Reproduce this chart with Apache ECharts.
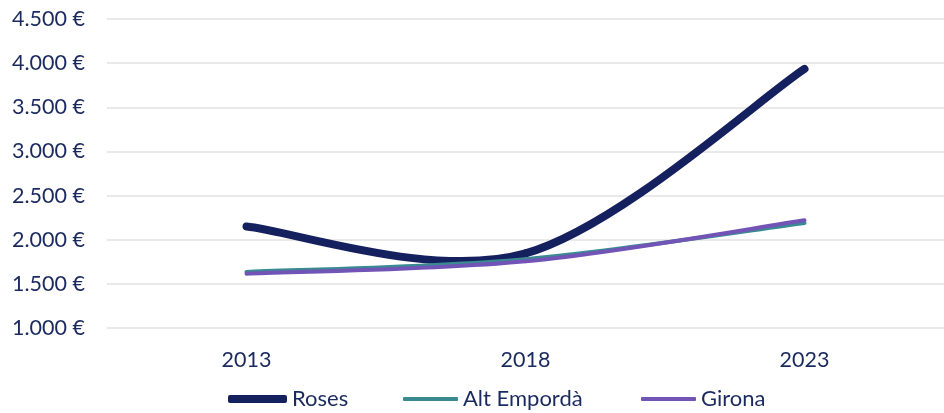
<!DOCTYPE html>
<html>
<head>
<meta charset="utf-8">
<script src="https://cdn.jsdelivr.net/npm/echarts@6/dist/echarts.min.js"></script>
<style>html,body{margin:0;padding:0;background:#fff}#c{width:944px;height:413px}</style>
</head>
<body>
<div id="c"></div>
<script>
var years = ['2013', '2018', '2023'];
var roses = [2150, 1845, 3935];
var altEmporda = [1635, 1780, 2190];
var girona = [1615, 1755, 2220];
var yTicks = [1000, 1500, 2000, 2500, 3000, 3500, 4000, 4500];

var textColor = '#1B2A5E';
var font = 'Lato';
var fs = 21.5;
function fmt(v) {
  var s = String(Math.round(v));
  return s.replace(/\B(?=(\d{3})+(?!\d))/g, '.') + ' €';
}
// Excel-like smoothed line (Catmull-Rom style Bezier) through the data points, positioned via the axes
function smoothRenderer(vals, color, width) {
  return function (params, api) {
    if (params.dataIndex !== 0) return null;
    var pts = vals.map(function (v, i) { return api.coord([i, v]); });
    var children = [];
    for (var i = 0; i < pts.length - 1; i++) {
      var p0 = pts[i - 1] || pts[i], p1 = pts[i], p2 = pts[i + 1], p3 = pts[i + 2] || pts[i + 1];
      children.push({
        type: 'bezierCurve',
        shape: {
          x1: p1[0], y1: p1[1], x2: p2[0], y2: p2[1],
          cpx1: p1[0] + (p2[0] - p0[0]) / 6, cpy1: p1[1] + (p2[1] - p0[1]) / 6,
          cpx2: p2[0] - (p3[0] - p1[0]) / 6, cpy2: p2[1] - (p3[1] - p1[1]) / 6
        },
        style: {stroke: color, lineWidth: width, lineCap: 'round', fill: null}
      });
    }
    return {type: 'group', children: children};
  };
}
function mkSeries(name, vals, color, width) {
  return {
    name: name, type: 'custom', coordinateSystem: 'cartesian2d',
    data: vals.map(function (v, i) { return [i, v]; }),
    encode: {x: 0, y: 1},
    itemStyle: {color: color},
    renderItem: smoothRenderer(vals, color, width)
  };
}
var legendText = {color: textColor, fontFamily: font, fontSize: 22};
var chart = echarts.init(document.getElementById('c'), null, {renderer: 'canvas'});
chart.setOption({
  animation: false,
  grid: {left: 107, width: 845, top: 19, bottom: 85},
  legend: [
    {left: 228, top: 388, padding: 0, itemWidth: 59, itemHeight: 8, icon: 'roundRect', itemStyle: {borderRadius: 4},
     textStyle: legendText, data: ['Roses']},
    {left: 403, top: 388, padding: 0, itemWidth: 55, itemHeight: 4, icon: 'roundRect',
     textStyle: legendText, data: ['Alt Empordà']},
    {left: 641, top: 388, padding: 0, itemWidth: 55, itemHeight: 4, icon: 'roundRect',
     textStyle: legendText, data: ['Girona']}
  ],
  xAxis: {
    type: 'category', data: years, boundaryGap: true,
    axisLine: {show: false}, axisTick: {show: false},
    axisLabel: {color: textColor, fontFamily: font, fontSize: fs, margin: 21}
  },
  yAxis: {
    type: 'value', min: yTicks[0], max: yTicks[yTicks.length - 1], interval: 500,
    axisLine: {show: false}, axisTick: {show: false},
    splitLine: {lineStyle: {color: '#E2E2E2', width: 1.5}},
    axisLabel: {color: textColor, fontFamily: font, fontSize: fs, margin: 22, formatter: fmt}
  },
  series: [
    mkSeries('Roses', roses, '#15205E', 8),
    mkSeries('Alt Empordà', altEmporda, '#3A8A92', 4),
    mkSeries('Girona', girona, '#7254B6', 4)
  ]
});
</script>
</body>
</html>
